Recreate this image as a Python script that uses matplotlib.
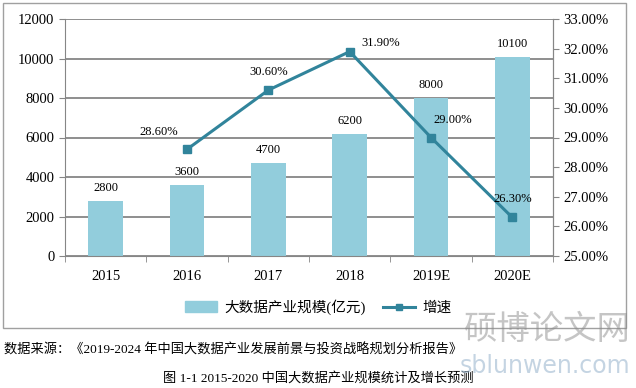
import matplotlib.pyplot as plt
from matplotlib.patches import Rectangle
from matplotlib.lines import Line2D
from matplotlib.ticker import FuncFormatter

plt.rcParams['font.family'] = ['Liberation Serif', 'Noto Sans CJK SC', 'DejaVu Sans']

years  = ['2015', '2016', '2017', '2018', '2019E', '2020E']
scale  = [2800, 3600, 4700, 6200, 8000, 10100]
g_year = ['2016', '2017', '2018', '2019E', '2020E']
growth = [28.6, 30.6, 31.9, 29.0, 26.3]

bar_col  = '#92CDDC'
line_col = '#31849B'
grid_col = '#868686'

fig = plt.figure(figsize=(6.36, 3.88), dpi=100)
fig.patches.append(Rectangle((3/636, 1 - 328/388), 623/636, 325/388, transform=fig.transFigure,
                             fill=False, edgecolor='#A0A0A0', linewidth=1.0))

ax = fig.add_axes([65/636, 1 - 256/388, 488/636, 237/388])
x  = list(range(len(years)))
ax.bar(x, scale, width=0.43, color=bar_col, zorder=2)
for xi, v in zip(x, scale):
    ax.text(xi, v + 350, str(v), ha='center', va='bottom', fontsize=9)

ax.set_xlim(-0.5, len(years) - 0.5)
ax.set_ylim(0, 12000)
ax.set_yticks(range(0, 12001, 2000))
ax.set_xticks(x)
ax.set_xticklabels(years, fontsize=10.5)
ax.set_xticks([i - 0.5 for i in range(len(years) + 1)], minor=True)
ax.tick_params(axis='x', which='major', length=0, pad=10)
ax.tick_params(axis='x', which='minor', length=4, color=grid_col)
ax.tick_params(axis='y', labelsize=10.5, length=4, color=grid_col)
ax.grid(axis='y', color=grid_col, linewidth=1.3, zorder=0)
ax.spines['top'].set_visible(False)
for s in ['left', 'bottom', 'right']:
    ax.spines[s].set_color(grid_col)

ax2 = ax.twinx()
gx = [years.index(y) for y in g_year]
ax2.plot(gx, growth, color=line_col, linewidth=2.2, marker='s', markersize=6, zorder=3)
ax2.set_ylim(25, 33)
ax2.set_yticks(range(25, 34))
ax2.yaxis.set_major_formatter(FuncFormatter(lambda v, p: f'{v:.2f}%'))
ax2.tick_params(axis='y', labelsize=10.5, length=4, color=grid_col)
ax2.spines['top'].set_visible(False)
ax2.spines['right'].set_color(grid_col)
ax2.spines['left'].set_visible(False)
ax2.spines['bottom'].set_visible(False)

offsets = [(-20, 8), (0, 9), (22, 2), (16, 8), (0, 9)]
for xi, v, off in zip(gx, growth, offsets):
    ax2.annotate(f'{v:.2f}%', (xi, v), xytext=off, textcoords='offset points',
                 ha='center', va='bottom', fontsize=9)

handles = [Rectangle((0, 0), 1, 1, color=bar_col),
           Line2D([], [], color=line_col, linewidth=2.2, marker='s', markersize=5)]
fig.legend(handles, ['大数据产业规模(亿元)', '增速'], loc='center',
           bbox_to_anchor=(318/636, 1 - 307/388), ncol=2, frameon=False,
           fontsize=10.5, handlelength=2.2, columnspacing=1.2, handletextpad=0.5)

fig.text(4/636, 1 - 350/388, '数据来源：《2019-2024 年中国大数据产业发展前景与投资战略规划分析报告》',
         ha='left', va='center', fontsize=9.5)
fig.text(318/636, 1 - 378/388, '图 1-1 2015-2020 中国大数据产业规模统计及增长预测',
         ha='center', va='center', fontsize=9.5)

fig.text(547/636, 1 - 330/388, '硕博论文网', ha='center', va='center', fontsize=24,
         color='#8C8C8C', alpha=0.5)
fig.text(545/636, 1 - 366/388, 'sblunwen.com', ha='center', va='center', fontsize=17,
         color='#9EB8D0', alpha=0.6, family='DejaVu Sans')

fig.savefig('out.png', dpi=100)
